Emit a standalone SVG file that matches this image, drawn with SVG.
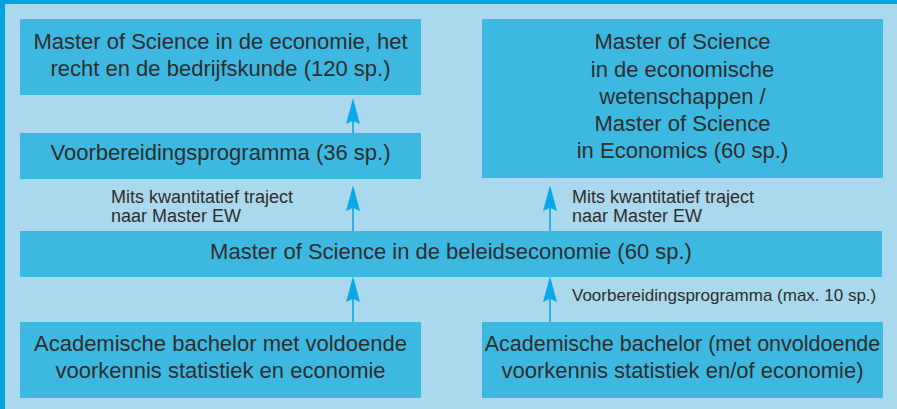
<svg xmlns="http://www.w3.org/2000/svg" width="897" height="409" viewBox="0 0 897 409">
<style>
.bg{fill:#aad8ec}
.frame{fill:#00a3da}
.box{fill:#3db8e0}
.t{font-family:"Liberation Sans",Arial,sans-serif;font-size:22px;fill:#2e2e2e;text-anchor:middle}
.s{font-family:"Liberation Sans",Arial,sans-serif;font-size:18px;fill:#2e2e2e}
.s2{font-family:"Liberation Sans",Arial,sans-serif;font-size:17px;fill:#2e2e2e}
.c{stroke:#0aa8e8;stroke-width:1.6;fill:none;marker-end:url(#ah)}
</style>
<defs>
<marker id="ah" markerUnits="userSpaceOnUse" orient="auto" markerWidth="30" markerHeight="20" refX="0" refY="0" viewBox="-16 -8 28 16" overflow="visible">
<path d="M10,0 L-14,-6.5 L-11,0 L-14,6.5 Z" fill="#0aa8e8"/>
</marker>
</defs>
<rect class="bg" x="0" y="0" width="897" height="409"/>
<rect class="frame" x="0" y="0" width="897" height="4"/>
<rect class="frame" x="0" y="0" width="5" height="409"/>

<g id="connectors">
<path class="c" d="M353,133 V109"/>
<path class="c" d="M353,231 V196"/>
<path class="c" d="M353,322 V287"/>
<path class="c" d="M550,231 V196"/>
<path class="c" d="M550,322 V287"/>
<text class="s" x="111" y="203">Mits kwantitatief traject</text>
<text class="s" x="111" y="222">naar Master EW</text>
<text class="s" x="572" y="203">Mits kwantitatief traject</text>
<text class="s" x="572" y="222">naar Master EW</text>
<text class="s2" x="572" y="301">Voorbereidingsprogramma (max. 10 sp.)</text>
</g>

<g id="master-ehb">
<rect class="box" x="20" y="19" width="401" height="76"/>
<text class="t" x="220.5" y="48.5">Master of Science in de economie, het</text>
<text class="t" x="220.5" y="75.8">recht en de bedrijfskunde (120 sp.)</text>
</g>

<g id="voorbereiding">
<rect class="box" x="20" y="133" width="401" height="46"/>
<text class="t" x="220.5" y="160">Voorbereidingsprogramma (36 sp.)</text>
</g>

<g id="master-ew">
<rect class="box" x="482" y="19" width="401" height="159"/>
<text class="t" x="682.5" y="49.3">Master of Science</text>
<text class="t" x="682.5" y="76.5">in de economische</text>
<text class="t" x="682.5" y="103.5">wetenschappen /</text>
<text class="t" x="682.5" y="130.7">Master of Science</text>
<text class="t" x="682.5" y="157.8">in Economics (60 sp.)</text>
</g>

<g id="master-beleid">
<rect class="box" x="20" y="231" width="862" height="46"/>
<text class="t" x="451" y="259.3">Master of Science in de beleidseconomie (60 sp.)</text>
</g>

<g id="bachelor-voldoende">
<rect class="box" x="20" y="322" width="401" height="76"/>
<text class="t" x="220.5" y="350.7">Academische bachelor met voldoende</text>
<text class="t" x="220.5" y="377.5">voorkennis statistiek en economie</text>
</g>

<g id="bachelor-onvoldoende">
<rect class="box" x="482" y="322" width="401" height="76"/>
<text class="t" x="682.5" y="350.7" style="font-size:21.5px">Academische bachelor (met onvoldoende</text>
<text class="t" x="682.5" y="377.5">voorkennis statistiek en/of economie)</text>
</g>
</svg>
